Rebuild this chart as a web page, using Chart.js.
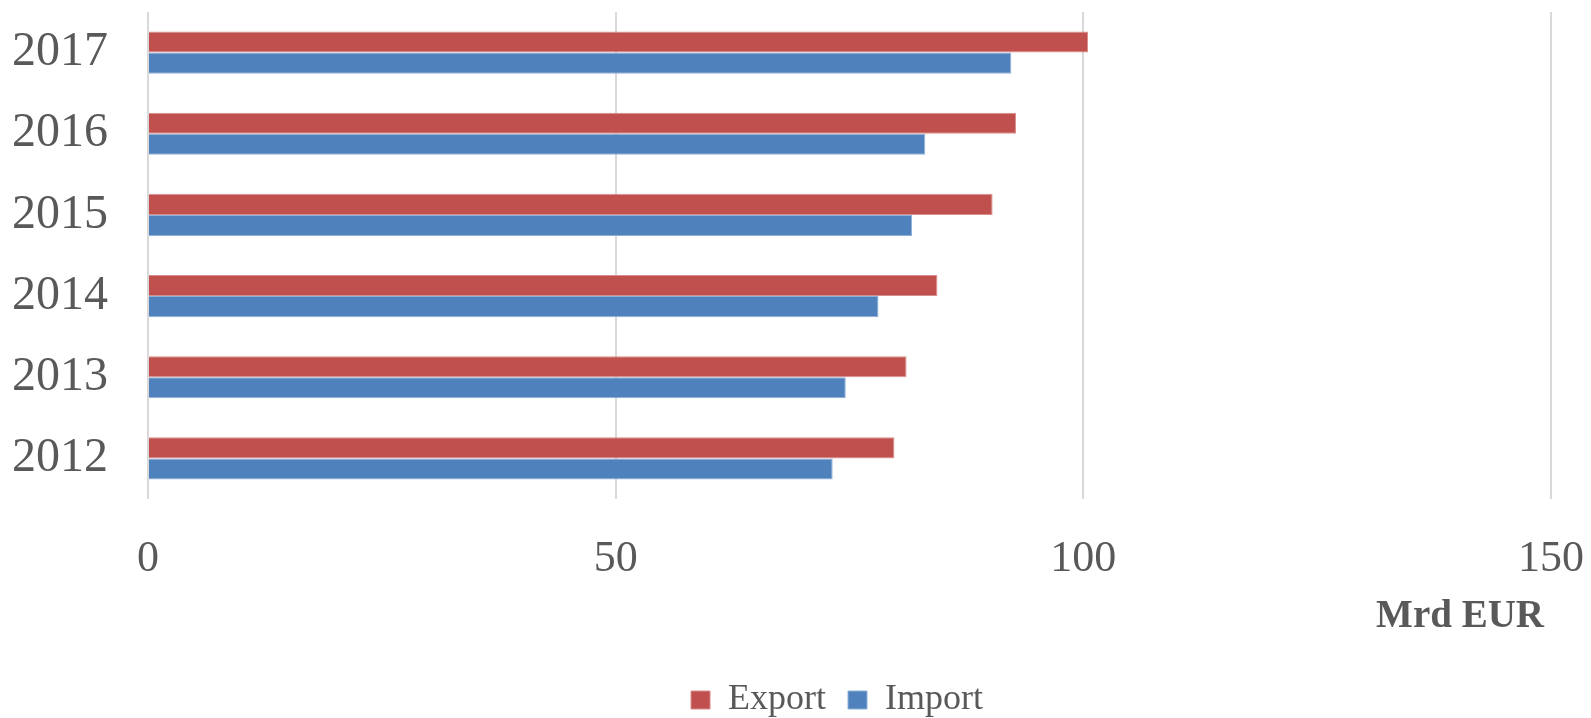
<!DOCTYPE html>
<html>
<head>
<meta charset="utf-8">
<script src="https://cdn.jsdelivr.net/npm/chart.js@4"></script>
<style>
  body { margin: 0; background: #fff; }
  #wrap { width: 1591px; height: 718px; }
</style>
</head>
<body>
<div id="wrap"><canvas id="tradeChart"></canvas></div>
<script>
// Years top to bottom, values in Mrd EUR
const years = ["2017", "2016", "2015", "2014", "2013", "2012"];
const exportValues = [100.5, 92.8, 90.3, 84.4, 81.1, 79.8];
const importValues = [92.3, 83.1, 81.7, 78.1, 74.6, 73.2];
const xTicks = [0, 50, 100, 150];

const textColor = "#595959";
const serif = "'Liberation Serif', 'Times New Roman', serif";

// unit label under the x axis, right side
const unitLabel = {
  id: "unitLabel",
  afterDraw(chart) {
    const { ctx, chartArea } = chart;
    ctx.save();
    ctx.font = "bold 39px " + serif;
    ctx.fillStyle = textColor;
    ctx.textAlign = "right";
    ctx.textBaseline = "alphabetic";
    ctx.fillText("Mrd EUR", chartArea.right - 7, 627);
    ctx.restore();
  }
};

// legend in the reference sits a bit right of centre
const legendPlace = {
  id: "legendPlace",
  afterLayout(chart) {
    const lg = chart.legend;
    const h = lg.height;
    lg.left = 137;
    lg.right = 1537;
    lg.width = 1400;
    lg.top = 660;
    lg.bottom = lg.top + h;
  }
};

new Chart(document.getElementById("tradeChart"), {
  type: "bar",
  data: {
    labels: years,
    datasets: [
      {
        label: "Export",
        data: exportValues,
        backgroundColor: "#C0504D",
        borderColor: "#d98e8c",
        borderWidth: 1
      },
      {
        label: "Import",
        data: importValues,
        backgroundColor: "#4F81BD",
        borderColor: "#8fb0d9",
        borderWidth: 1
      }
    ]
  },
  options: {
    indexAxis: "y",
    responsive: true,
    maintainAspectRatio: false,
    animation: false,
    categoryPercentage: 0.52,
    barPercentage: 1.0,
    layout: { padding: { top: 12, left: 0, right: 0, bottom: 0 } },
    plugins: {
      tooltip: { enabled: false },
      legend: {
        position: "bottom",
        labels: {
          color: textColor,
          font: { family: serif, size: 36 },
          boxWidth: 19,
          boxHeight: 18,
          padding: 22
        }
      }
    },
    scales: {
      x: {
        min: 0,
        max: 150,
        afterBuildTicks(scale) {
          scale.ticks = xTicks.map(v => ({ value: v }));
        },
        afterFit(scale) {
          scale.height = scale.chart.height - 499 - scale.chart.legend.height;
          scale.paddingRight = 40;
        },
        grid: { color: "#d9d9d9", lineWidth: 2, drawTicks: false },
        border: { display: false },
        ticks: {
          color: textColor,
          font: { family: serif, size: 44 },
          padding: 34,
          maxRotation: 0
        }
      },
      y: {
        afterFit(scale) {
          scale.width = 148;
          scale.paddingTop = 0;
          scale.paddingBottom = 0;
        },
        grid: { display: false },
        border: { display: false },
        ticks: {
          color: textColor,
          font: { family: serif, size: 48 },
          padding: 32
        }
      }
    }
  },
  plugins: [unitLabel, legendPlace]
});
</script>
</body>
</html>
